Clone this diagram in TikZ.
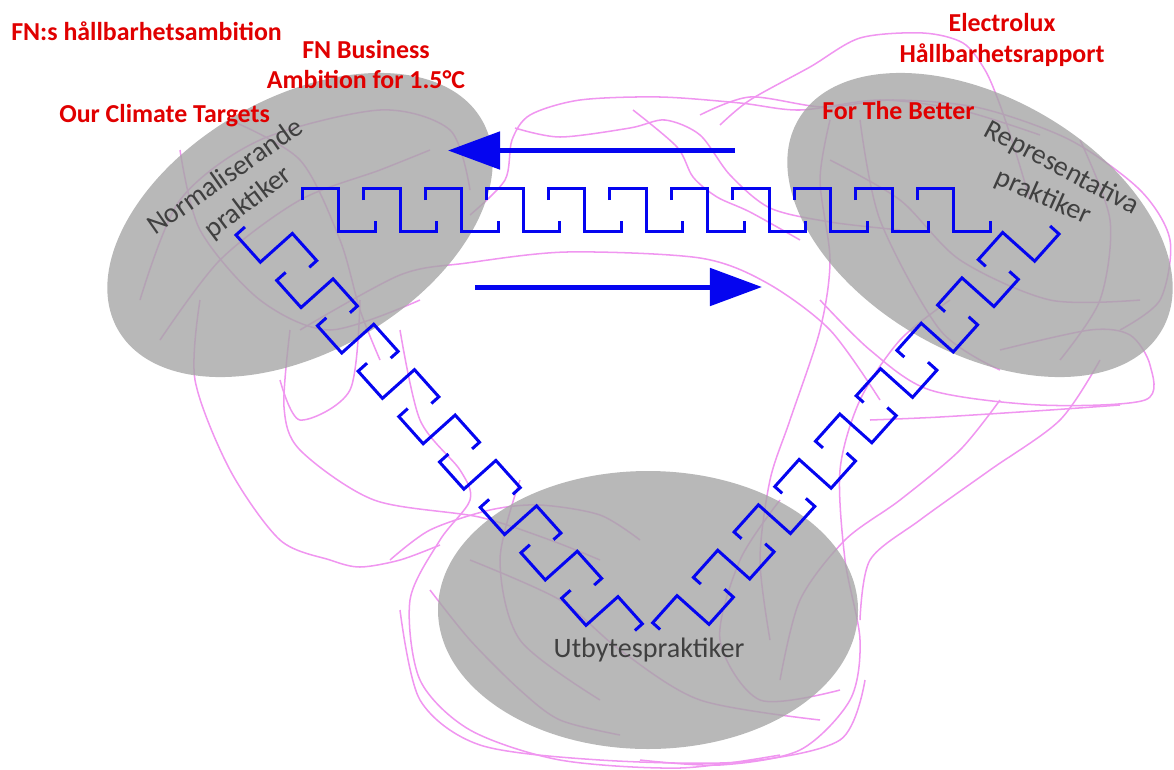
\documentclass[tikz,border=0pt]{standalone}
\usepackage{fontspec}
\setmainfont{Carlito}
\usepackage{xcolor}
\usetikzlibrary{arrows.meta}
\definecolor{KB}{HTML}{0505F0}
\definecolor{KR}{HTML}{E00000}
\definecolor{KG}{HTML}{A6A6A6}
\definecolor{KT}{HTML}{404040}
\definecolor{KP}{HTML}{F096F0}

\begin{document}
\begin{tikzpicture}[x=0.025cm, y=-0.025cm,
    tangle/.style={draw=KP, line width=0.38mm},
    practice/.style={fill=KG, fill opacity=0.8},
    keyline/.style={draw=KB, line width=0.75mm},
    flowarrow/.style={draw=KB, line width=1.25mm,
      -{Triangle[length=13mm, width=9.25mm]}},
    source/.style={font=\fontsize{18.4}{22}\selectfont\bfseries,
      text=KR, inner sep=0pt},
    practicelabel/.style={font=\fontsize{20}{22}\selectfont,
      text=KT, inner sep=0pt}]

    \useasboundingbox (0,0) rectangle (1174,769);

    %% tangle of lines (under the practices)
    \draw[tangle] plot[smooth] coordinates {(470,215) (505,180) (512,140) (530,115) (580,100) (660,97) (740,103) (800,110) (880,100) (960,110) (1040,135)};
    \draw[tangle] plot[smooth] coordinates {(515,128) (560,137) (630,128) (665,120) (700,135) (730,175) (770,208) (830,222) (900,230)};
    \draw[tangle] plot[smooth] coordinates {(633,110) (677,147) (693,177) (717,197) (750,212) (800,240)};
    \draw[tangle] plot[smooth] coordinates {(720,125) (750,100) (810,67) (860,38) (923,33) (963,43) (985,70) (1000,105) (1015,150) (1030,200)};
    \draw[tangle] plot[smooth] coordinates {(700,115) (750,97) (823,107) (893,100) (980,108) (1070,140) (1140,190) (1170,240) (1160,300) (1120,330)};
    \draw[tangle] plot[smooth] coordinates {(300,330) (400,275) (467,263) (567,252) (700,258) (767,283) (830,330) (880,400)};
    \draw[tangle] plot[smooth] coordinates {(820,300) (870,350) (930,390) (1040,405) (1145,400) (1150,365) (1130,335) (1090,330) (1000,350)};
    \draw[tangle] plot[smooth] coordinates {(870,420) (940,417) (1050,410) (1120,405)};
    \draw[tangle] plot[smooth] coordinates {(950,300) (900,340) (860,400) (840,470) (845,560) (860,640) (850,700) (800,750) (720,765) (640,760)};
    \draw[tangle] plot[smooth] coordinates {(1100,360) (1060,420) (990,470) (920,520) (870,560) (860,620)};
    \draw[tangle] plot[smooth] coordinates {(1000,400) (960,450) (900,500) (845,540) (800,600) (780,680)};
    \draw[tangle] plot[smooth] coordinates {(830,120) (820,180) (830,260) (820,330) (790,420) (770,480) (760,560) (770,640)};
    \draw[tangle] plot[smooth] coordinates {(200,300) (195,380) (230,470) (280,540) (330,560) (360,567) (400,560) (440,545)};
    \draw[tangle] plot[smooth] coordinates {(290,330) (284,407) (300,450) (374,500) (479,517) (550,540) (600,560)};
    \draw[tangle] plot[smooth] coordinates {(360,300) (350,390) (300,420) (280,380)};
    \draw[tangle] plot[smooth] coordinates {(400,330) (420,420) (460,470) (470,500) (440,540) (410,600) (420,680) (470,730) (560,760) (680,768) (780,755)};
    \draw[tangle] plot[smooth] coordinates {(390,560) (430,530) (490,510) (540,505) (600,515) (640,540)};
    \draw[tangle] plot[smooth] coordinates {(400,610) (420,700) (480,745) (600,760) (740,762) (840,740) (865,680)};
    \draw[tangle] plot[smooth] coordinates {(430,590) (470,640) (520,690) (560,720) (620,735)};
    \draw[tangle] plot[smooth] coordinates {(140,300) (180,200) (260,140) (380,110) (450,130) (470,190)};
    \draw[tangle] plot[smooth] coordinates {(160,340) (220,260) (300,200) (380,170) (430,150)};
    \draw[tangle] plot[smooth] coordinates {(180,150) (200,230) (260,300) (330,330) (420,300)};
    \draw[tangle] plot[smooth] coordinates {(230,120) (300,160) (340,240) (360,310) (380,360)};
    \draw[tangle] plot[smooth] coordinates {(830,160) (900,200) (960,260) (1050,300) (1140,300)};
    \draw[tangle] plot[smooth] coordinates {(860,120) (880,220) (940,330) (1000,370)};
    \draw[tangle] plot[smooth] coordinates {(1080,140) (1110,220) (1100,300) (1060,360)};
    \draw[tangle] plot[smooth] coordinates {(470,560) (560,600) (620,650) (700,700) (820,720)};
    \draw[tangle] plot[smooth] coordinates {(520,480) (500,560) (520,640) (600,700)};
    \draw[tangle] plot[smooth] coordinates {(780,500) (740,560) (720,640) (760,700) (840,690)};

    %% the three practices
    \fill[practice, rotate around={30:(300,225)}]
      (300,225) ellipse [x radius=210, y radius=127];
    \fill[practice, rotate around={-30:(980,225)}]
      (980,225) ellipse [x radius=210, y radius=127];
    \fill[practice] (648,610) ellipse [x radius=210, y radius=139];

    %% key pattern, top row
    \foreach \k in {0,...,10}
      \draw[keyline] (302+\k*61.5,200) -- ++(0,-12) -- ++(36.5,0)
        -- ++(0,43) -- ++(36.5,0) -- ++(0,-10);

    %% key pattern, left arm
    \begin{scope}[shift={(236,235)},
        x={(0.016675cm,-0.0186cm)}, y={(0.0186cm,0.016675cm)}]
      \foreach \k in {0,...,8}
        \draw[keyline] (\k*61,12) -- ++(0,-12) -- ++(36.5,0)
          -- ++(0,43) -- ++(36.5,0) -- ++(0,-10);
    \end{scope}

    %% key pattern, right arm
    \begin{scope}[shift={(1059,234)},
        x={(-0.016675cm,-0.0186cm)}, y={(-0.0186cm,0.016675cm)}]
      \foreach \k in {0,...,8}
        \draw[keyline] (\k*61,12) -- ++(0,-12) -- ++(36.5,0)
          -- ++(0,43) -- ++(36.5,0) -- ++(0,-10);
    \end{scope}

    %% flow arrows
    \coordinate (backtail) at (735,150.5);
    \coordinate (backtip) at (448,150.5);
    \coordinate (fwdtail) at (475,287);
    \coordinate (fwdtip) at (762,287);
    \draw[flowarrow] (backtail) -- (backtip);
    \draw[flowarrow] (fwdtail) -- (fwdtip);

    %% practice labels
    \node[practicelabel, anchor=base, rotate=35] (normA)
      at (230,183.5) {Normaliserande};
    \node[practicelabel, anchor=base, rotate=37] (normB)
      at (253,209) {praktiker};
    \node[practicelabel, anchor=base, rotate=-28] (reprA)
      at (1058,175) {Representativa};
    \node[practicelabel, anchor=base, rotate=-24] (reprB)
      at (1040,204) {praktiker};
    \node[practicelabel, anchor=base] (utby)
      at (649,657) {Utbytespraktiker};

    %% sources
    \node[source, anchor=base west] (fnamb)
      at (11,40.7) {FN:s hållbarhetsambition};
    \node[source, align=center] (fnbus)
      at (366,64.5) {FN Business\\Ambition for 1.5°C};
    \node[source, anchor=base west] (climate)
      at (59,122.5) {Our Climate Targets};
    \node[source, align=center] (elux)
      at (1002,40) {Electrolux\\Hållbarhetsrapport};
    \node[source, anchor=base west] (better)
      at (822,119.3) {For The Better};

\end{tikzpicture}
\end{document}
